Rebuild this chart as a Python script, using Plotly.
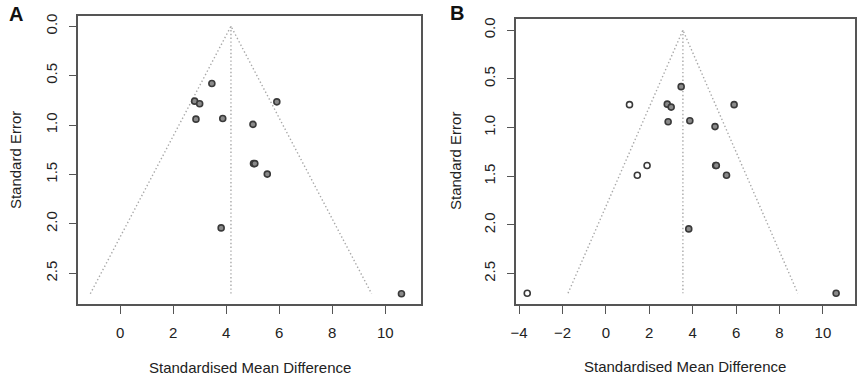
import plotly.graph_objects as go

# Panel A (observed studies)
smd_a = [3.46, 2.81, 3.00, 2.86, 3.87, 5.91, 5.01, 5.03, 5.08, 5.55, 3.81, 10.61]
se_a = [0.58, 0.758, 0.785, 0.94, 0.933, 0.765, 0.993, 1.39, 1.39, 1.496, 2.04, 2.706]
center_a = 4.18

# Panel B (trim-and-fill: observed + imputed)
smd_b_obs = [3.47, 2.83, 3.01, 2.87, 3.87, 5.91, 5.03, 5.06, 5.09, 5.56, 3.82, 10.61]
se_b_obs = [0.58, 0.76, 0.79, 0.94, 0.93, 0.765, 0.99, 1.39, 1.39, 1.49, 2.04, 2.70]
smd_b_fill = [1.09, 1.90, 1.45, -3.62]
se_b_fill = [0.765, 1.39, 1.49, 2.70]
center_b = 3.55

x_ticks_a = [0, 2, 4, 6, 8, 10]
x_ticks_b = [-4, -2, 0, 2, 4, 6, 8, 10]
y_ticks = [0.0, 0.5, 1.0, 1.5, 2.0, 2.5]

W, H = 858, 377
FONT = "Liberation Sans, Arial, Helvetica, sans-serif"
TXT = "#222222"
FS = 15

fig = go.Figure()

def funnel(center, maxse, xa, ya):
    z = 1.96
    ln = dict(color="#a8a8a8", width=1.4, dash="1.4px,2.4px")
    fig.add_trace(go.Scatter(
        x=[center - z * maxse, center, center + z * maxse],
        y=[maxse, 0, maxse], mode="lines", line=ln,
        xaxis=xa, yaxis=ya, hoverinfo="skip", showlegend=False))
    fig.add_trace(go.Scatter(
        x=[center, center], y=[0, maxse], mode="lines", line=ln,
        xaxis=xa, yaxis=ya, hoverinfo="skip", showlegend=False))

funnel(center_a, max(se_a), "x", "y")
funnel(center_b, max(se_b_obs + se_b_fill), "x2", "y2")

mk_filled = dict(size=6, color="#8a8a8a", line=dict(color="#3a3a3a", width=1.6))
mk_open = dict(size=6, color="white", line=dict(color="#3a3a3a", width=1.6))

fig.add_trace(go.Scatter(x=smd_a, y=se_a, mode="markers", marker=mk_filled,
                         xaxis="x", yaxis="y", showlegend=False))
fig.add_trace(go.Scatter(x=smd_b_obs, y=se_b_obs, mode="markers", marker=mk_filled,
                         xaxis="x2", yaxis="y2", showlegend=False))
fig.add_trace(go.Scatter(x=smd_b_fill, y=se_b_fill, mode="markers", marker=mk_open,
                         xaxis="x2", yaxis="y2", showlegend=False))

def px_x(p):
    return p / W

def px_y(p):
    return 1 - p / H

axis_common = dict(showgrid=False, zeroline=False, showline=True, mirror=True,
                   linecolor="#555555", linewidth=1.5, ticks="outside", ticklen=8,
                   tickwidth=1.3, tickcolor="#555555",
                   tickfont=dict(family=FONT, size=FS, color=TXT))

fig.update_layout(
    width=W, height=H, margin=dict(l=0, r=0, t=0, b=0),
    paper_bgcolor="white", plot_bgcolor="white",
    xaxis=dict(domain=[px_x(73), px_x(418)], range=[-1.57, 11.35], anchor="y",
               tickvals=x_ticks_a, ticklabelstandoff=6, **axis_common),
    yaxis=dict(domain=[px_y(304), px_y(14)], range=[2.814, -0.104], anchor="x",
               tickvals=y_ticks, tickformat=".1f", tickangle=-90,
               ticklabelstandoff=6, **axis_common),
    xaxis2=dict(domain=[px_x(514), px_x(855)], range=[-4.12, 11.48], anchor="y2",
                tickvals=x_ticks_b, ticklabelstandoff=6, **axis_common),
    yaxis2=dict(domain=[px_y(303.5), px_y(17.5)], range=[2.81, -0.11], anchor="x2",
                tickvals=y_ticks, tickformat=".1f", tickangle=-90,
                ticklabelstandoff=6, **axis_common),
)

def note(text, x, y, size, angle=0, color=TXT):
    return dict(text=text, x=px_x(x), y=px_y(y), xref="paper", yref="paper",
                xanchor="center", yanchor="middle", showarrow=False,
                textangle=angle, font=dict(family=FONT, size=size, color=color))

ann = [
    note("<b>A</b>", 10, 12, 20, color="#111"),
    note("<b>B</b>", 454.5, 11, 20, color="#111"),
    note("Standardised Mean Difference", 246, 367, FS),
    note("Standardised Mean Difference", 684, 366, FS),
    note("Standard Error", 9, 159, FS, angle=-90),
    note("Standard Error", 452, 160, FS, angle=-90),
]
fig.update_layout(annotations=ann)

fig.write_html("out.html", config={"displayModeBar": False},
               post_script="document.body.style.margin='0px';document.body.style.padding='0px';document.body.style.overflow='hidden';")
